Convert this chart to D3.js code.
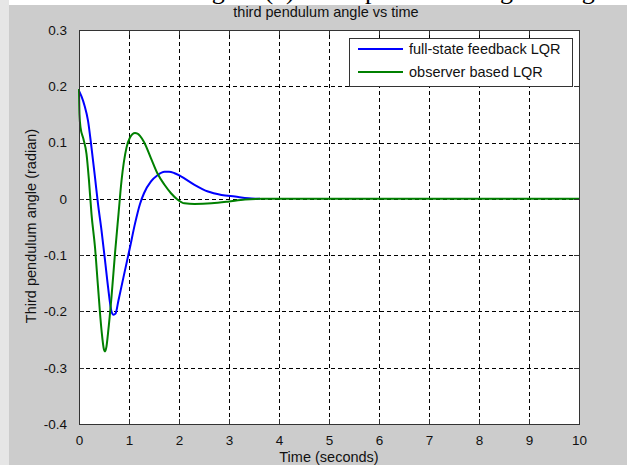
<!DOCTYPE html>
<meta charset="utf-8">
<head>
<style>
body { margin: 0; background: #fff; }
text { font-family: "Liberation Sans", Arial, sans-serif; fill: #111; }
.grid line { stroke: #000; stroke-dasharray: 4,3; stroke-width: 1px; shape-rendering: crispEdges; }
.grid path { display: none; }
.ax path, .ax line { stroke: #333; shape-rendering: crispEdges; }
.line { fill: none; stroke-width: 2px; }
</style>
</head>
<body>
<script src="https://d3js.org/d3.v7.min.js"></script>
<script>

// full-state feedback LQR (blue)
var fullTime  = [0, 0.05, 0.11, 0.18, 0.25, 0.32, 0.38, 0.45, 0.52, 0.58, 0.65, 0.69, 0.73, 0.79, 0.89, 1.02, 1.12, 1.22, 1.30, 1.44, 1.57, 1.71, 1.80, 1.90, 2.04, 2.31, 2.58, 2.85, 3.12, 3.39, 3.62];
var fullAngle = [0.192, 0.182, 0.166, 0.139, 0.091, 0.038, -0.009, -0.056, -0.109, -0.156, -0.200, -0.206, -0.204, -0.180, -0.139, -0.086, -0.044, -0.009, 0.010, 0.031, 0.042, 0.048, 0.048, 0.046, 0.040, 0.025, 0.013, 0.007, 0.004, 0.001, 0.000];

// observer based LQR (green)
var obsTime  = [0, 0.01, 0.03, 0.09, 0.15, 0.20, 0.25, 0.32, 0.38, 0.45, 0.50, 0.52, 0.55, 0.58, 0.65, 0.72, 0.79, 0.85, 0.95, 1.02, 1.12, 1.17, 1.22, 1.30, 1.44, 1.57, 1.71, 1.84, 1.98, 2.11, 2.31, 2.65, 2.98, 3.32, 3.66, 10];
var obsAngle = [0.195, 0.150, 0.127, 0.106, 0.080, 0.032, -0.027, -0.086, -0.156, -0.233, -0.268, -0.271, -0.262, -0.239, -0.174, -0.097, -0.027, 0.032, 0.091, 0.109, 0.117, 0.116, 0.112, 0.101, 0.072, 0.045, 0.025, 0.010, -0.002, -0.008, -0.009, -0.008, -0.005, -0.001, 0.000, 0.000];

var xTicks = [0, 1, 2, 3, 4, 5, 6, 7, 8, 9, 10];
var yTicks = [0.3, 0.2, 0.1, 0, -0.1, -0.2, -0.3, -0.4];
var yLabels = ["0.3", "0.2", "0.1", "0", "-0.1", "-0.2", "-0.3", "-0.4"];
var seriesNames = ["full-state feedback LQR", "observer based LQR"];
var seriesColors = ["#0000ff", "#008000"];

var W = 627, H = 465;
var margin = {top: 30, right: 48, bottom: 41, left: 79},
    width = W - margin.left - margin.right,
    height = H - margin.top - margin.bottom;

var svg = d3.select("body").append("svg")
    .attr("width", W)
    .attr("height", H);

// caption of the page above, mostly hidden behind the figure
svg.append("text")
    .attr("x", 190).attr("y", -1)
    .style("font-family", "'Liberation Serif', 'Times New Roman', serif")
    .style("font-size", "26px")
    .style("fill", "#000")
    .text("Figure (3) Third pendulum angle using LQR");

// figure background (grey) and light strip at the left
svg.append("rect").attr("x", 9).attr("y", 5).attr("width", W - 9).attr("height", H - 5).attr("fill", "#cccccc");
svg.append("rect").attr("x", 0).attr("y", 0).attr("width", 9).attr("height", H).attr("fill", "#e6e6e6");

var g = svg.append("g")
    .attr("transform", "translate(" + margin.left + "," + margin.top + ")");

var x = d3.scaleLinear().domain([0, 10]).range([0, width]);
var y = d3.scaleLinear().domain([-0.4, 0.3]).range([height, 0]);

g.append("rect").attr("width", width).attr("height", height).attr("fill", "#fff");

// dashed grid
g.append("g").attr("class", "grid")
    .attr("transform", "translate(0," + height + ")")
    .call(d3.axisBottom(x).tickValues(xTicks.slice(1, -1)).tickSize(-height).tickFormat(""));
g.append("g").attr("class", "grid")
    .call(d3.axisLeft(y).tickValues(yTicks.slice(1, -1)).tickSize(-width).tickFormat(""));

// lines
var line = d3.line()
    .x(function(d) { return x(d[0]); })
    .y(function(d) { return y(d[1]); })
    .curve(d3.curveMonotoneX);

var series = [
  d3.zip(fullTime, fullAngle),
  d3.zip(obsTime, obsAngle)
];

g.selectAll(".line")
    .data(series)
  .enter().append("path")
    .attr("class", "line")
    .attr("stroke", function(d, i) { return seriesColors[i]; })
    .attr("d", line);

// axes with inward ticks
g.append("g").attr("class", "ax")
    .attr("transform", "translate(0," + height + ")")
    .call(d3.axisBottom(x).tickValues(xTicks).tickSizeInner(-5).tickSizeOuter(0).tickPadding(11).tickFormat(d3.format("d")));
g.append("g").attr("class", "ax")
    .call(d3.axisTop(x).tickValues(xTicks).tickSizeInner(-5).tickSizeOuter(0).tickFormat(""));
g.append("g").attr("class", "ax")
    .call(d3.axisLeft(y).tickValues(yTicks).tickSizeInner(-5).tickSizeOuter(0).tickPadding(12)
      .tickFormat(function(d, i) { return yLabels[i]; }));
g.append("g").attr("class", "ax")
    .attr("transform", "translate(" + width + ",0)")
    .call(d3.axisRight(y).tickValues(yTicks).tickSizeInner(-5).tickSizeOuter(0).tickFormat(""));

g.selectAll(".ax text").style("font-size", "13.5px").style("fill", "#111");

g.append("rect").attr("width", width).attr("height", height)
    .attr("fill", "none").attr("stroke", "#333").attr("shape-rendering", "crispEdges");

// title and axis labels
g.append("text")
    .attr("x", width / 2 - 3).attr("y", -13)
    .attr("text-anchor", "middle")
    .style("font-size", "14.5px")
    .text("third pendulum angle vs time");

g.append("text")
    .attr("x", width / 2).attr("y", height + 38)
    .attr("text-anchor", "middle")
    .style("font-size", "14.5px")
    .text("Time (seconds)");

g.append("text")
    .attr("transform", "rotate(-90)")
    .attr("x", -height / 2 + 1).attr("y", -margin.left + 36)
    .attr("text-anchor", "middle")
    .style("font-size", "14.5px")
    .text("Third pendulum angle (radian)");

// legend
var leg = g.append("g").attr("transform", "translate(" + (349 - margin.left) + "," + (38 - margin.top) + ")");
leg.append("rect").attr("width", 223).attr("height", 48)
    .attr("fill", "#fff").attr("stroke", "#333").attr("shape-rendering", "crispEdges");
seriesNames.forEach(function(name, i) {
  var yy = 11 + i * 23;
  leg.append("line").attr("x1", 9).attr("x2", 54).attr("y1", yy).attr("y2", yy)
      .attr("stroke", seriesColors[i]).attr("stroke-width", 2);
  leg.append("text").attr("x", 60).attr("y", yy + 5)
      .style("font-size", "14.5px").text(name);
});

</script>
</body>
